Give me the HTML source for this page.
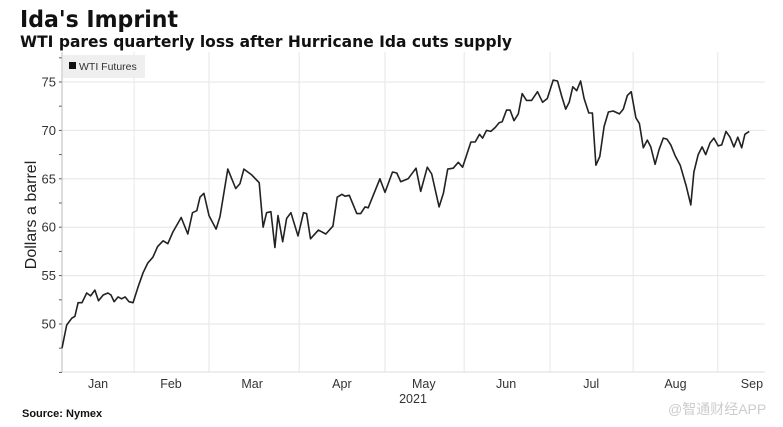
<!DOCTYPE html>
<html><head><meta charset="utf-8"><style>
html,body{margin:0;padding:0;background:#fff;width:783px;height:427px;overflow:hidden}
svg text{font-family:"Liberation Sans","DejaVu Sans",sans-serif}
</style></head><body>
<svg id="chart" width="783" height="427" viewBox="0 0 783 427" xmlns="http://www.w3.org/2000/svg">
<text x="20" y="27" font-size="23" font-weight="bold" fill="#111" textLength="158" lengthAdjust="spacingAndGlyphs" style="font-family:'DejaVu Sans',sans-serif">Ida's Imprint</text>
<text x="20" y="47" font-size="16" font-weight="bold" fill="#111" textLength="492" lengthAdjust="spacingAndGlyphs" style="font-family:'DejaVu Sans',sans-serif">WTI pares quarterly loss after Hurricane Ida cuts supply</text>
<g id="grid"></g>
<g id="axes"></g>
<g>
<rect x="63" y="55" width="82" height="23" fill="#efefef"/>
<rect x="69" y="62" width="7" height="7" fill="#111"/>
<text x="79" y="70" font-size="10.5" fill="#333">WTI Futures</text>
</g>
<path id="line" fill="none" stroke="#222" stroke-width="1.6" stroke-linejoin="round"/>
<text transform="translate(36,215) rotate(-90)" text-anchor="middle" font-size="16" fill="#222">Dollars a barrel</text>
<text x="413" y="403" text-anchor="middle" font-size="12.5" fill="#333">2021</text>
<text x="22" y="417" font-size="11" font-weight="bold" fill="#111">Source: Nymex</text>
<text x="668" y="414" font-size="14" fill="#ccc" style="font-family:'Liberation Sans','Noto Sans CJK SC',sans-serif">@智通财经APP</text>
</svg>
<script>
const days=[0,1.2,2.5,3.3,4.1,5.1,6.3,7.3,8.4,9.3,10.5,11.7,12.5,13.3,14.3,15.2,16.1,17.1,18.1,19.4,20.7,21.9,23.2,24.4,25.8,27.0,28.3,30.4,32.1,33.3,34.4,35.2,36.2,37.5,39.3,40.3,42.3,44.3,45.4,46.4,48.4,50.3,51.3,52.2,53.3,54.3,55.1,56.3,57.3,58.4,60.2,61.6,62.4,63.4,65.4,67.3,69.1,70.2,71.4,72.2,73.3,75.2,76.2,77.3,78.1,81.1,82.4,84.3,85.4,86.4,88.3,90.3,91.5,93.2,94.3,96.2,97.3,98.4,99.8,101.1,102.2,104.3,105.4,106.5,107.3,108.3,109.4,110.5,111.5,112.3,113.4,114.3,115.3,116.4,117.4,118.5,119.8,121.3,122.6,123.8,125.3,126.4,127.5,128.5,129.4,130.3,131.3,132.3,133.2,134.4,135.3,136.2,137.2,138.3,139.4,140.6,142.2,143.2,144.2,145.2,146.4,147.3,148.3,149.3,150.2,151.3,152.3,153.4,154.3,155.3,156.4,157.7,159.2,160.4,161.2,162.3,163.3,164.2,165.3,166.3,167.4,168.3,169.4,170.4,171.4,172.4,173.4,174.2,175.3];
const prices=[47.5,49.9,50.6,50.8,52.2,52.2,53.2,52.9,53.5,52.4,53.0,53.2,53.0,52.3,52.8,52.6,52.8,52.3,52.2,53.8,55.3,56.3,56.9,58.0,58.6,58.3,59.5,61.0,59.3,61.5,61.7,63.1,63.5,61.2,59.8,61.1,66.0,64.0,64.5,66.0,65.4,64.6,60.0,61.5,61.6,57.9,61.2,58.5,60.9,61.5,59.1,61.5,61.4,58.8,59.7,59.3,60.1,63.1,63.4,63.2,63.3,61.4,61.4,62.1,62.0,65.0,63.6,65.7,65.6,64.7,65.0,66.1,63.7,66.2,65.5,62.1,63.5,66.0,66.1,66.7,66.2,68.8,68.8,69.6,69.2,70.0,69.9,70.3,70.8,70.9,72.1,72.1,71.0,71.7,73.8,73.1,73.1,74.0,72.9,73.3,75.2,75.1,73.5,72.2,72.9,74.5,74.1,75.1,73.3,71.8,71.8,66.4,67.3,70.4,71.9,72.0,71.7,72.2,73.6,74.0,71.3,70.7,68.2,69.0,68.3,66.5,68.0,69.2,69.1,68.5,67.4,66.4,64.3,62.3,65.7,67.5,68.3,67.5,68.7,69.2,68.4,68.5,69.9,69.3,68.3,69.3,68.2,69.6,69.9];
const monthNames=["Jan","Feb","Mar","Apr","May","Jun","Jul","Aug","Sep"];
const monthStarts=[18.4,37.5,60.5,82.4,102.6,124.5,145.7,167.3];
const monthLabelPos=[9.2,27.8,48.5,71.4,92.3,113.3,135.0,156.5,176.0];
const yTicks=[50,55,60,65,70,75];

const X0=62,XR=765,YB=372,YT=52;
function xs(t){return 62+t*3.92;}
function ys(v){return 324-(v-50)*9.68;}
const NS="http://www.w3.org/2000/svg";
function mk(tag,attrs,parent){const e=document.createElementNS(NS,tag);for(const k in attrs)e.setAttribute(k,attrs[k]);parent.appendChild(e);return e;}
const grid=document.getElementById('grid'),axes=document.getElementById('axes');
yTicks.forEach(v=>{
  const g=mk('line',{x1:X0,x2:XR,y1:ys(v),y2:ys(v),stroke:'#e6e6e6','stroke-width':1},grid);
  
  
  const t=mk('text',{x:56,y:ys(v)+4.5,'text-anchor':'end','font-size':13,fill:'#333'},axes);
  
  
  t.textContent=v;
});
for(let v=45;v<=77.5;v+=2.5){
  const tk=mk('line',{x1:X0-3,x2:X0,y1:ys(v),y2:ys(v),stroke:'#555','stroke-width':1},axes);
  
  
}
monthStarts.forEach(m=>{
  const g=mk('line',{x1:xs(m),x2:xs(m),y1:YT,y2:YB,stroke:'#e6e6e6','stroke-width':1},grid);
  
  
});
monthNames.forEach((n,i)=>{
  const t=mk('text',{x:xs(monthLabelPos[i]),y:388,'text-anchor':'middle','font-size':12.5,fill:'#333'},axes);
  
  
  t.textContent=n;
});
const la=mk('line',{x1:X0,x2:X0,y1:YT,y2:YB,stroke:'#bbb','stroke-width':1},axes);


const ba=mk('line',{x1:X0,x2:XR,y1:YB,y2:YB,stroke:'#ddd','stroke-width':1},axes);


let d='';
days.forEach((t,i)=>{d+=(i?'L':'M')+xs(t).toFixed(1)+','+ys(prices[i]).toFixed(1);});
document.getElementById('line').setAttribute('d',d);
</script>
</body></html>
